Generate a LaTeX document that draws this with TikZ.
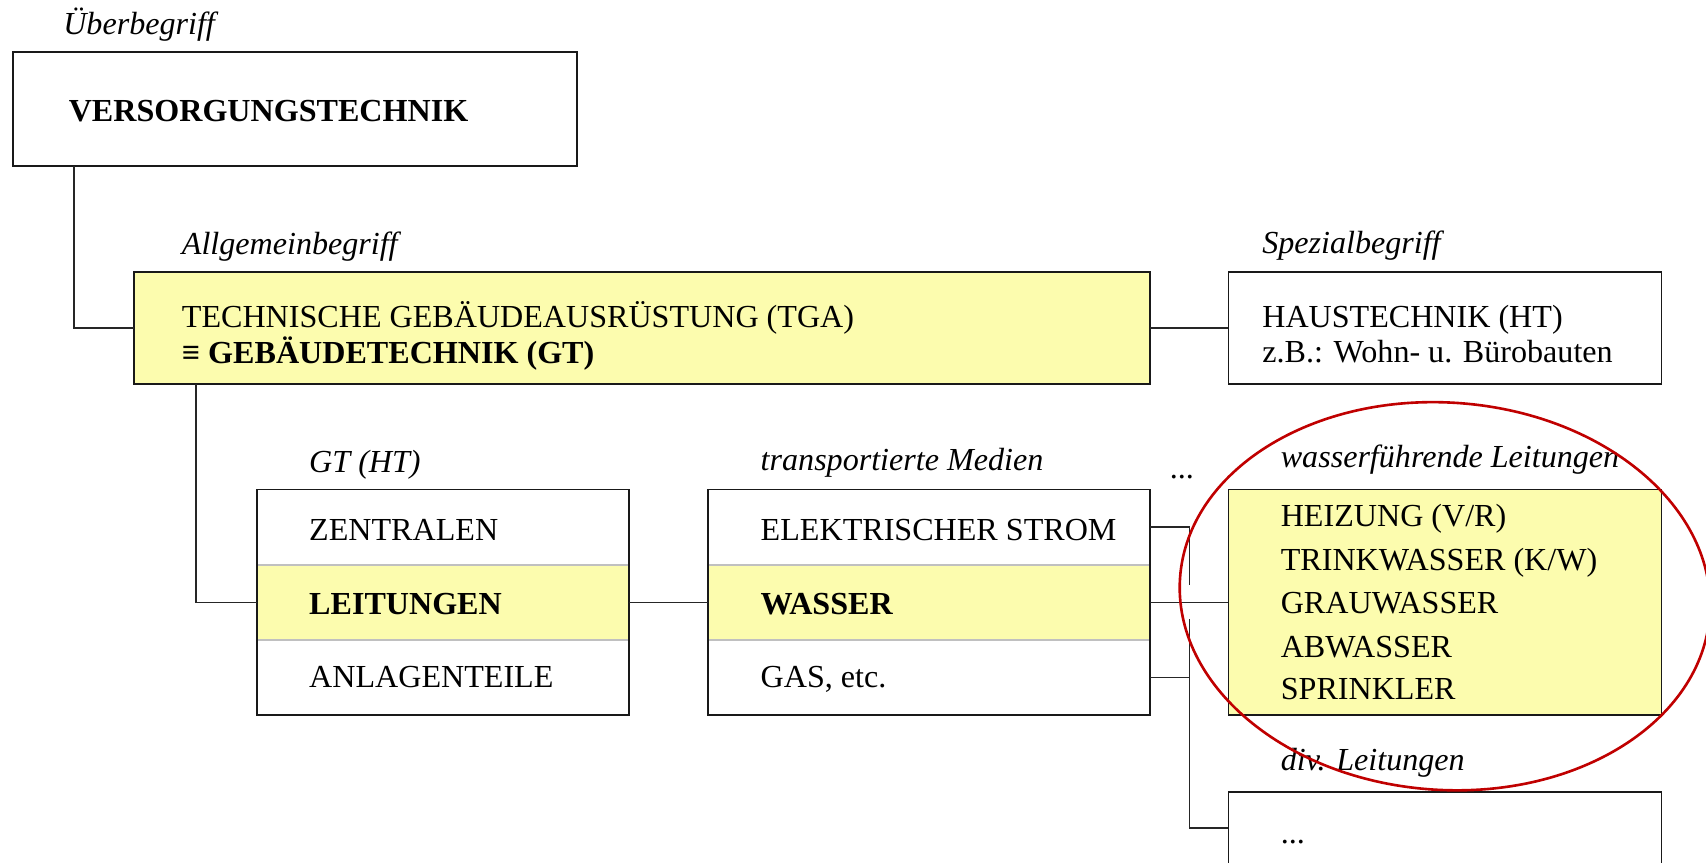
\documentclass[tikz,border=0pt]{standalone}
\usepackage{fontspec}
\setmainfont{Liberation Serif}
\definecolor{yel}{RGB}{252,252,174}
\definecolor{redline}{RGB}{192,0,0}
\definecolor{sepgray}{RGB}{192,192,192}
\begin{document}
\begin{tikzpicture}[x=1pt,y=-1pt,
  box/.style={draw=black!90, line width=1.6pt, inner sep=0pt, outer sep=0pt},
  rowbox/.style={inner sep=0pt, outer sep=0pt, minimum width=342pt, minimum height=69pt},
  mrowbox/.style={inner sep=0pt, outer sep=0pt, minimum width=406pt, minimum height=69pt},
  txt/.style={anchor=base west, inner sep=0pt, font=\fontsize{29.5}{35}\selectfont},
  itx/.style={anchor=base west, inner sep=0pt, font=\fontsize{29.5}{35}\selectfont\itshape},
  btx/.style={anchor=base west, inner sep=0pt, font=\fontsize{29.5}{35}\selectfont\bfseries},
  conn/.style={draw=black!85, line width=1.3pt},
  sep/.style={draw=sepgray, line width=1.8pt},
  mark circle/.style={draw=redline, line width=2.4pt},
]
\clip (0,0) rectangle (1568,793);
\fill[white] (0,0) rectangle (1568,793);

% ---- top level
\node[itx] (lueber) at (58,32) {Überbegriff};
\node[box, minimum width=518pt, minimum height=105pt] (vers) at (271,100) {};
\node[btx] (tvers) at (63,112) {VERSORGUNGSTECHNIK};

% ---- second level
\node[itx] (lallg) at (167,234) {Allgemeinbegriff};
\node[box, fill=yel, minimum width=934pt, minimum height=103pt] (tga) at (590,301.5) {};
\node[txt] (ttga1) at (167,301) {TECHNISCHE GEBÄUDEAUSRÜSTUNG (TGA)};
\node[btx] (ttga2) at (167,334) {≡ GEBÄUDETECHNIK (GT)};

\node[itx] (lspez) at (1160,233) {Spezialbegriff};
\node[box, minimum width=398pt, minimum height=103pt] (ht) at (1328,301.5) {};
\node[txt] (tht1) at (1160,301) {HAUSTECHNIK (HT)};
\node[txt] (tht2) at (1160,333) {z.B.: Wohn- u. Bürobauten};

% ---- GT (HT) box
\node[itx] (lgt) at (284,434) {GT (HT)};
\node[rowbox] (zent) at (407,484.5) {};
\node[rowbox, fill=yel] (leit) at (407,553.5) {};
\node[rowbox] (anl) at (407,622.5) {};
\draw[sep] (zent.south west) -- (zent.south east);
\draw[sep] (anl.north west) -- (anl.north east);
\draw[box] (zent.north west) rectangle (anl.south east);
\node[txt] (tzent) at (284,497) {ZENTRALEN};
\node[btx] (tleit) at (284,565) {LEITUNGEN};
\node[txt] (tanl) at (284,632) {ANLAGENTEILE};

% ---- transportierte Medien box
\node[itx] (lmed) at (699,432) {transportierte Medien};
\node[mrowbox] (elek) at (854,484.5) {};
\node[mrowbox, fill=yel] (wass) at (854,553.5) {};
\node[mrowbox] (gas) at (854,622.5) {};
\draw[sep] (elek.south west) -- (elek.south east);
\draw[sep] (gas.north west) -- (gas.north east);
\draw[box] (elek.north west) rectangle (gas.south east);
\node[txt] (telek) at (699,497) {ELEKTRISCHER STROM};
\node[btx] (twass) at (699,565) {WASSER};
\node[txt] (tgas) at (699,632) {GAS, etc.};

\node[txt] (dots1) at (1075,440) {...};

% ---- wasserfuehrende Leitungen
\node[itx] (lwf) at (1177,430) {wasserführende Leitungen};
\node[box, fill=yel, minimum width=398pt, minimum height=207pt] (wbox) at (1328,553.5) {};
\node[txt] (w1) at (1177,484) {HEIZUNG (V/R)};
\node[txt] (w2) at (1177,524) {TRINKWASSER (K/W)};
\node[txt] (w3) at (1177,564) {GRAUWASSER};
\node[txt] (w4) at (1177,604) {ABWASSER};
\node[txt] (w5) at (1177,643) {SPRINKLER};

% ---- div. Leitungen
\node[itx] (ldiv) at (1177,708) {div. Leitungen};
\node[box, minimum width=398pt, minimum height=82pt] (divbox) at (1328,769) {};
\node[txt] (tdiv) at (1177,775) {...};

% ---- connectors
\draw[conn] ([xshift=56pt]vers.south west) |- (tga.west);
\draw[conn] (tga.east) -- (ht.west);
\draw[conn] ([xshift=57pt]tga.south west) |- (leit.west);
\draw[conn] (leit.east) -- (wass.west);
\draw[conn] (wass.east) -- (wbox.west);
\coordinate (brtop) at (1093,538);
\coordinate (brlow) at (1093,569);
\draw[conn] (elek.east) -| (brtop);
\draw[conn] (gas.east) -- (gas.east -| brlow);
\draw[conn] (brlow) |- ([yshift=-33pt]divbox.north west);

% ---- red highlight ellipse
\draw[mark circle, rotate around={-4:(1328,548)}] (1328,548) ellipse [x radius=244, y radius=178];
\end{tikzpicture}
\end{document}
